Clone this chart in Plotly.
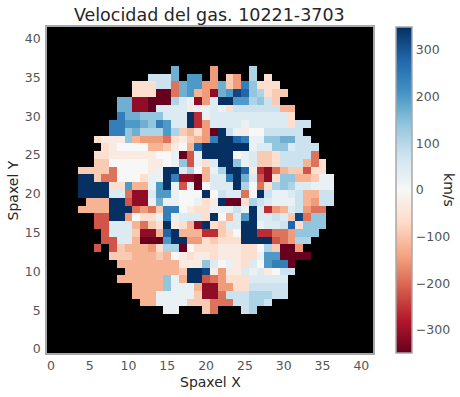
"""Velocity map of the gas for galaxy 10221-3703."""

import numpy as np
import plotly.graph_objects as go

N_SPAXELS = 42

TITLE = "Velocidad del gas. 10221-3703"
X_LABEL = "Spaxel X"
Y_LABEL = "Spaxel Y"
CBAR_LABEL = "km/s"
TICKS = [0, 5, 10, 15, 20, 25, 30, 35, 40]
CBAR_TICKS = [-300, -200, -100, 0, 100, 200, 300]
V_LIMIT = 349

# velocity, one letter per spaxel, "." = no data
LEVELS = dict(A=-350, B=-310, C=-260, D=-220, E=-190, F=-150, G=-120, H=-90,
              I=-60, J=-30, K=0, L=25, M=50, N=75, O=110, P=140, Q=170, R=200,
              S=240, T=280, U=320, V=350)

ROW_Y = list(range(36, 4, -1))
ROW_START = [16, 13, 11, 11, 9, 9, 9, 8, 8, 6, 7, 6, 6, 4, 4, 4,
             4, 5, 4, 6, 6, 7, 7, 6, 8, 9, 10, 9, 11, 11, 12, 15]
ROW_CELLS = [
    "Q....F....O",
    "NNNQ.RR.F.HF.O.I",
    "IIINNEQRRFFQHFSPIII",
    "IIIAAEQRGFBQRUTPOIHH",
    "QQBBAAAOMLBFMVVRROPNH",
    "QQBBAMMMMJLLMLINNNNNNGG",
    "SQQPPPMMMVCLMMMMMMMMMMI",
    "SSRRQPSRMMVCFMMMMLMMMMMINN",
    "SSPQOOOROHGIFAVNLJKKNNNNN",
    "IJJJPGFFFEIJHGFSVVTSLLPPQQNN",
    "IJKKKKGGHJKGTVVVVVVLMMPPMNNN",
    "IIJJJJJJKKLADLVVVVKLMHHINNNNE",
    "HHKKKKKJJKLPDLIMVVPLMHHINNNGEI",
    "HHHHEKKKKJLVVMOKGLOVVTJCBEGHHDII",
    "VVHEEKKKILLVSBBAGMMSVQMDBIPPGGHLL",
    "VVVVIIRGGLRVLDLAKMMMVOKEIOPOMMLLL",
    "VVVVMMEBBMRRLKKKVKNMMEKVNLLMNGGNN",
    "GGGVVDBBLQLLKKLIJVAAIONMLLLNGFNN",
    "GGGGVVVEFEHSSKJIILLLNLVMCFGMNFEE",
    "DDVVFKIILSLMMMIVKGMRVMMNMHUEPP",
    "DDMMMGEHIVJIGBVIHMMVVLMMNTIPPP",
    "DMMMHBBGTVGGGCCHIKVVCCEEFPPP",
    "DDMMGAAARVVFFIHIIIVVVVDEFOO",
    "D.DHGGGFIOOAKIIIJJJIIKOHAAF",
    "HHHGGGHGKJIJJIJJJIILRRAAAA",
    "GGGGGGGGJJJPMKLJIMKRSSA",
    "GGGGGGGHVVUJFJJMLMJKNN",
    "GGGGGGPLGVVDEFIIIMMMMM",
    "GGGGPLLLGBBFFIINNNNN",
    "GGGLLLLLHBBENNNOOONN",
    "GGLLLLHHHEEENNOON",
    "LL...HE...NO",
]

# matplotlib RdBu_r stops
COLOR_STOPS = ["#67001f", "#b2182b", "#d6604d", "#f4a582", "#fddbc7", "#f7f7f7",
               "#d1e5f0", "#92c5de", "#4393c3", "#2166ac", "#053061"]

TEXT = "#262626"
TICK_TEXT = "#555555"
FRAME = "#a8a8a8"
FONT = "DejaVu Sans"

z = np.full((N_SPAXELS, N_SPAXELS), np.nan)
for y, start, cells in zip(ROW_Y, ROW_START, ROW_CELLS):
    for i, code in enumerate(cells):
        if code != ".":
            z[y, start + i] = LEVELS[code]

colorscale = [[i / (len(COLOR_STOPS) - 1), c] for i, c in enumerate(COLOR_STOPS)]

fig = go.Figure()
fig.add_trace(go.Heatmap(
    z=z.tolist(), x=list(range(N_SPAXELS)), y=list(range(N_SPAXELS)),
    colorscale=colorscale, zmin=-V_LIMIT, zmax=V_LIMIT, hoverongaps=False,
    colorbar=dict(
        thickness=16, len=1, lenmode="fraction", x=1.0706, xpad=0, xanchor="left", y=0.5,
        yanchor="middle", ypad=0, outlinecolor=FRAME, outlinewidth=1.5,
        ticks="", tickvals=CBAR_TICKS, tickfont=dict(size=12.5, color=TICK_TEXT),
    ),
))

axis_style = dict(
    range=[-0.5, 41.5], tickvals=TICKS, ticks="", showgrid=False, zeroline=False,
    showline=True, mirror=True, linecolor=FRAME, linewidth=1.5, automargin=False,
    tickfont=dict(size=12.5, color=TICK_TEXT),
)
fig.update_layout(
    width=460, height=397,
    margin=dict(l=47, r=87, t=27, b=44),
    paper_bgcolor="white", plot_bgcolor="black",
    font=dict(family=FONT, color=TEXT),
    title=dict(text=TITLE, font=dict(size=17.5, color=TEXT), x=0.455, xanchor="center",
               y=0.962, yanchor="middle"),
    xaxis=dict(**axis_style),
    yaxis=dict(ticklabelstandoff=2, **axis_style),
)
fig.add_annotation(
    text=CBAR_LABEL, textangle=90, showarrow=False, xref="paper", yref="paper",
    x=1.233, y=0.5, xanchor="center", yanchor="middle", font=dict(size=14, color=TEXT),
)
fig.add_annotation(
    text=X_LABEL, showarrow=False, xref="paper", yref="paper",
    x=0.5, y=-0.089, xanchor="center", yanchor="middle", font=dict(size=14, color=TEXT),
)
fig.add_annotation(
    text=Y_LABEL, textangle=-90, showarrow=False, xref="paper", yref="paper",
    x=-0.103, y=0.5, xanchor="center", yanchor="middle", font=dict(size=14, color=TEXT),
)

fig.write_html("out.html", config=dict(displayModeBar=False),
               post_script="document.body.style.margin='0';")
